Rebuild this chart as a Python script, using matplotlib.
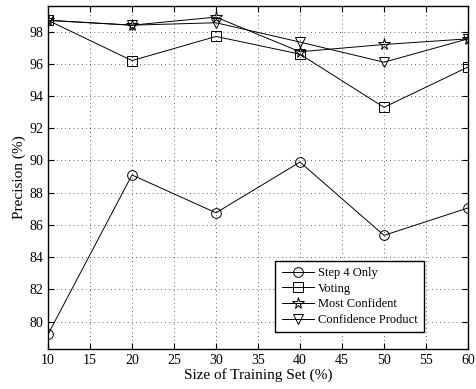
import matplotlib
matplotlib.use("Agg")
import matplotlib.pyplot as plt

plt.rcParams['font.family'] = ['Liberation Serif', 'DejaVu Serif']
plt.rcParams['font.size'] = 10

# training set sizes (%)
sizes = [10, 20, 30, 40, 50, 60]

step4_only = [79.2, 89.1, 86.75, 89.9, 85.35, 87.05]
voting = [98.7, 96.2, 97.7, 96.6, 93.3, 95.8]
most_confident = [98.7, 98.4, 98.9, 96.75, 97.2, 97.55]
conf_product = [98.7, 98.4, 98.55, 97.35, 96.1, 97.55]

series = [
    ("Step 4 Only", step4_only, 'o', 7),
    ("Voting", voting, 's', 6.5),
    ("Most Confident", most_confident, '*', 8.5),
    ("Confidence Product", conf_product, 'v', 7.5),
]

fig = plt.figure(figsize=(4.77, 3.89), dpi=100)
ax = fig.add_axes([0.1006, 0.103, 0.8805, 0.882])

for label, vals, m, ms in series:
    ax.plot(sizes, vals, color='black', lw=0.7, marker=m, markersize=ms,
            markerfacecolor='none', markeredgecolor='black', markeredgewidth=0.7,
            label=label)

ax.set_xlim(10, 60)
ax.set_ylim(78.3, 99.6)
ax.set_xticks(range(10, 61, 5))
ax.set_yticks(range(80, 99, 2))
ax.grid(True, color='#333333', linestyle=(0, (1, 4)), linewidth=0.6)
ax.tick_params(direction='in', length=4, width=0.8, top=True, right=True, labelsize=10)
for sp in ax.spines.values():
    sp.set_linewidth(1.0)

ax.set_xlabel("Size of Training Set (%)", fontsize=11, labelpad=1)
ax.set_ylabel("Precision (%)", fontsize=11, labelpad=2)

leg = ax.legend(loc='lower right', bbox_to_anchor=(0.91, 0.03), fancybox=False,
                edgecolor='black', framealpha=1, fontsize=9, handlelength=2.6,
                borderpad=0.5, labelspacing=0.3, handletextpad=0.3)
leg.get_frame().set_linewidth(1.0)

fig.savefig("out.png", dpi=100)
